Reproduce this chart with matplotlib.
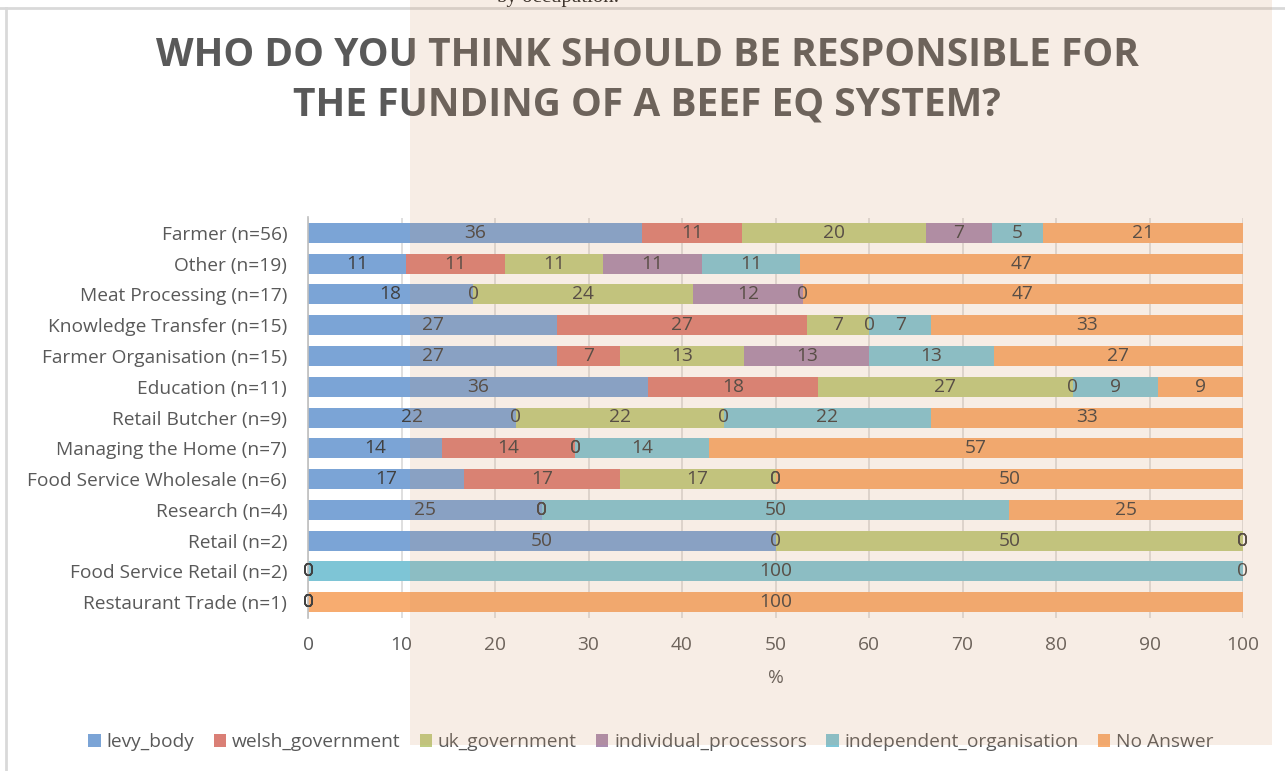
import matplotlib
matplotlib.use("Agg")
import matplotlib.pyplot as plt
from matplotlib.patches import Rectangle, Patch
from matplotlib.lines import Line2D
import numpy as np

categories = ["Farmer (n=56)", "Other (n=19)", "Meat Processing (n=17)",
              "Knowledge Transfer (n=15)", "Farmer Organisation (n=15)",
              "Education (n=11)", "Retail Butcher (n=9)", "Managing the Home (n=7)",
              "Food Service Wholesale (n=6)", "Research (n=4)", "Retail (n=2)",
              "Food Service Retail (n=2)", "Restaurant Trade (n=1)"]

levy_body = [35.71, 10.53, 17.65, 26.67, 26.67, 36.36, 22.22, 14.29, 16.67, 25.0, 50.0, 0, 0]
welsh_government = [10.71, 10.53, 0, 26.67, 6.67, 18.18, 0, 14.29, 16.67, 0, 0, 0, 0]
uk_government = [19.64, 10.53, 23.53, 6.67, 13.33, 27.27, 22.22, 0, 16.67, 0, 50.0, 0, 0]
individual_processors = [7.14, 10.53, 11.76, 0, 13.33, 0, 0, 0, 0, 0, 0, 0, 0]
independent_organisation = [5.36, 10.53, 0, 6.67, 13.33, 9.09, 22.22, 14.29, 0, 50.0, 0, 100, 0]
no_answer = [21.43, 47.37, 47.06, 33.33, 26.67, 9.09, 33.33, 57.14, 50.0, 25.0, 0, 0, 100]

series_names = ["levy_body", "welsh_government", "uk_government",
                "individual_processors", "independent_organisation", "No Answer"]
series_values = [levy_body, welsh_government, uk_government,
                 individual_processors, independent_organisation, no_answer]
colors = ["#7BA4D6", "#DA7F76", "#BFCC82", "#AA8CB0", "#7EC5D6", "#F7AC70"]

x_ticks = [0, 10, 20, 30, 40, 50, 60, 70, 80, 90, 100]

W, H = 1285, 771
fig = plt.figure(figsize=(W / 100, H / 100), dpi=100)
fig.patch.set_facecolor("white")

ax = fig.add_axes([308 / W, 1 - 617.5 / H, (1243 - 308) / W, (617.5 - 217.5) / H])
ax.set_facecolor("none")

txt_font = ["Open Sans", "DejaVu Sans"]
gray = "#595959"
fs = 13.8

y = np.arange(len(categories))
left = np.zeros(len(categories))
for name, vals, col in zip(series_names, series_values, colors):
    vals = np.array(vals, dtype=float)
    ax.barh(y, vals, left=left, height=0.65, color=col, zorder=2, label=name)
    for yi, (l, v) in enumerate(zip(left, vals)):
        ax.text(l + v / 2, yi, f"{v:.0f}", ha="center", va="center",
                fontsize=fs, color="#404040", family=txt_font, zorder=4)
    left = left + vals

ax.set_ylim(len(categories) - 0.5, -0.5)
ax.set_xlim(0, 100)
ax.set_xticks(x_ticks)
ax.set_xticklabels([str(t) for t in x_ticks])
ax.set_yticks(y)
ax.set_yticklabels(categories)
ax.xaxis.grid(True, color="#D9D9D9", lw=1.2, zorder=0)
ax.set_axisbelow(True)
for s in ["top", "right", "bottom"]:
    ax.spines[s].set_visible(False)
ax.spines["left"].set_color("#BFBFBF")
ax.spines["left"].set_linewidth(1.2)
ax.tick_params(axis="both", length=0, colors=gray, labelsize=fs)
ax.tick_params(axis="x", pad=13)
ax.tick_params(axis="y", pad=15)
for lab in ax.get_xticklabels() + ax.get_yticklabels():
    lab.set_family(txt_font)
ax.set_xlabel("%", fontsize=fs, color=gray, family=txt_font, labelpad=11)

# title
title_font = ["Open Sans", "DejaVu Sans"]
fig.text(647 / W, 1 - 55 / H, "WHO DO YOU THINK SHOULD BE RESPONSIBLE FOR",
         ha="center", va="center", fontsize=28, fontweight="bold", color=gray,
         family=title_font)
fig.text(647 / W, 1 - 105 / H, "THE FUNDING OF A BEEF EQ SYSTEM?",
         ha="center", va="center", fontsize=28, fontweight="bold", color=gray,
         family=title_font)

# cut-off caption text at the very top (only its lower part is visible)
fig.text(558 / W, 1 - 2 / H, "by occupation.", ha="center", va="baseline",
         fontsize=15, color="#222222", family=["Liberation Serif", "DejaVu Serif"])

# chart border lines
fig.add_artist(Line2D([0, 1], [1 - 8 / H, 1 - 8 / H], transform=fig.transFigure,
                      color="#D9D9D9", lw=2))
fig.add_artist(Line2D([6 / W, 6 / W], [0, 1 - 8 / H], transform=fig.transFigure,
                      color="#D9D9D9", lw=2))

# legend
handles = [Patch(facecolor=c, edgecolor="none") for c in colors]
leg = fig.legend(handles, series_names, loc="center", bbox_to_anchor=(651 / W, 1 - 742 / H),
                 ncol=6, frameon=False, handlelength=0.65, handleheight=0.65,
                 handletextpad=0.3, columnspacing=1.0,
                 prop={"family": txt_font, "size": fs})
for t in leg.get_texts():
    t.set_color(gray)

# translucent overlay
fig.add_artist(Rectangle((410 / W, 1 - 745 / H), (1272 - 410) / W, 745 / H,
                         transform=fig.transFigure, facecolor=(212 / 255, 151 / 255, 102 / 255),
                         edgecolor="none", alpha=0.165, zorder=100))

fig.savefig("out.png", dpi=100)
